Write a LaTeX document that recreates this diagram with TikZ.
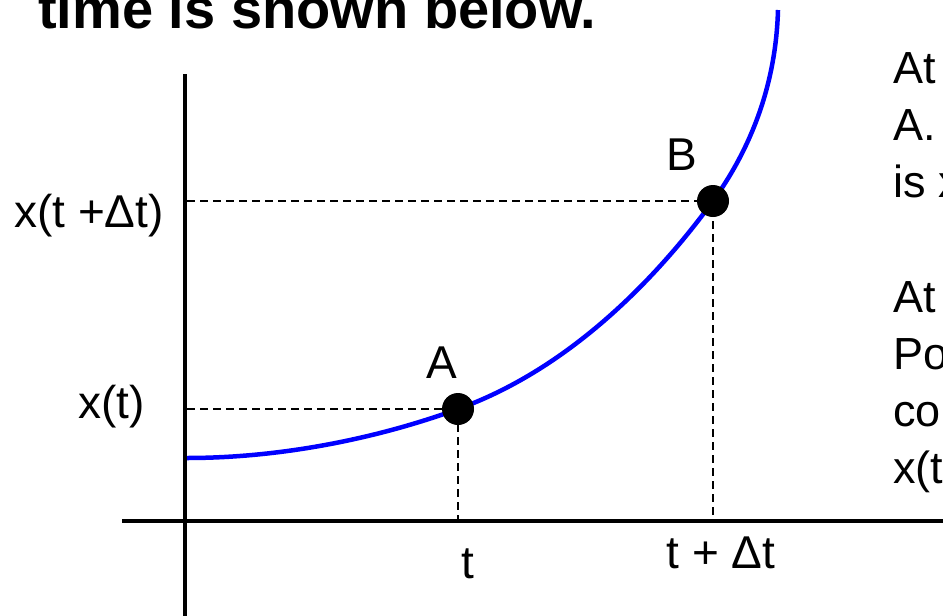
\documentclass[tikz,border=0pt]{standalone}
\usepackage{fontspec}
\setmainfont{Liberation Sans}
\begin{document}
\begin{tikzpicture}[x=1pt,y=-1pt,
  axis/.style={line width=4.5pt},
  curve/.style={draw=blue, line width=4.5pt},
  guide/.style={line width=2pt, dash pattern=on 8pt off 5pt},
  dot/.style={circle, fill=black, minimum size=32pt, inner sep=0pt},
  lbl/.style={font=\fontsize{46}{55}\selectfont, inner sep=0pt},
  side/.style={font=\fontsize{45}{54}\selectfont, inner sep=0pt, anchor=base west},
  ttl/.style={font=\fontsize{56}{60}\selectfont\bfseries, inner sep=0pt, anchor=base west}]
\useasboundingbox (0,0) rectangle (943,616);
\clip (0,0) rectangle (943,616);
% title (cut off at top)
\node[ttl] (title) at (38,28) {time is shown below.};
% axes
\coordinate (ytop) at (185,74);
\coordinate (ybot) at (185,622);
\coordinate (xl) at (122,521);
\coordinate (xr) at (948,521);
\draw[axis] (ytop) -- (ybot);
\draw[axis] (xl) -- (xr);
% points
\coordinate (pA) at (458,409);
\coordinate (pB) at (713,201);
\coordinate (Ay) at (187,409);
\coordinate (At) at (458,519);
\coordinate (By) at (187,201);
\coordinate (Bt) at (713,519);
\coordinate (S) at (187,458);
\coordinate (T) at (778,10);
% dashed guides
\draw[guide] (Ay) -- (pA) -- (At);
\draw[guide] (By) -- (pB) -- (Bt);
% curve
\draw[curve] (S) .. controls (277,458) and (373,440) .. (pA)
  .. controls (561,372) and (648,290) .. (pB)
  .. controls (754,144) and (776,80) .. (T);
% dots
\node[dot] (A) at (pA) {};
\node[dot] (B) at (pB) {};
% labels
\node[lbl, anchor=base] (lA) at (442,378) {A};
\node[lbl, anchor=base] (lB) at (682,170) {B};
\node[lbl, anchor=base east] (lxt) at (145,418) {x(t)};
\node[lbl, anchor=base west] (lxtd) at (14,227) {x(t +Δt)};
\node[lbl, anchor=base] (lt) at (468,578) {t};
\node[lbl, anchor=base] (ltd) at (721,568) {t + Δt};
% side text (cut off at right, as in the reference)
\node[side] (s1) at (893,83) {At};
\node[side] (s2) at (893,140) {A.};
\node[side] (s3) at (893,197) {is x};
\node[side] (s4) at (893,312) {At};
\node[side] (s5) at (893,369) {Po};
\node[side] (s6) at (893,426) {co};
\node[side] (s7) at (893,483) {x(t};
\end{tikzpicture}
\end{document}
